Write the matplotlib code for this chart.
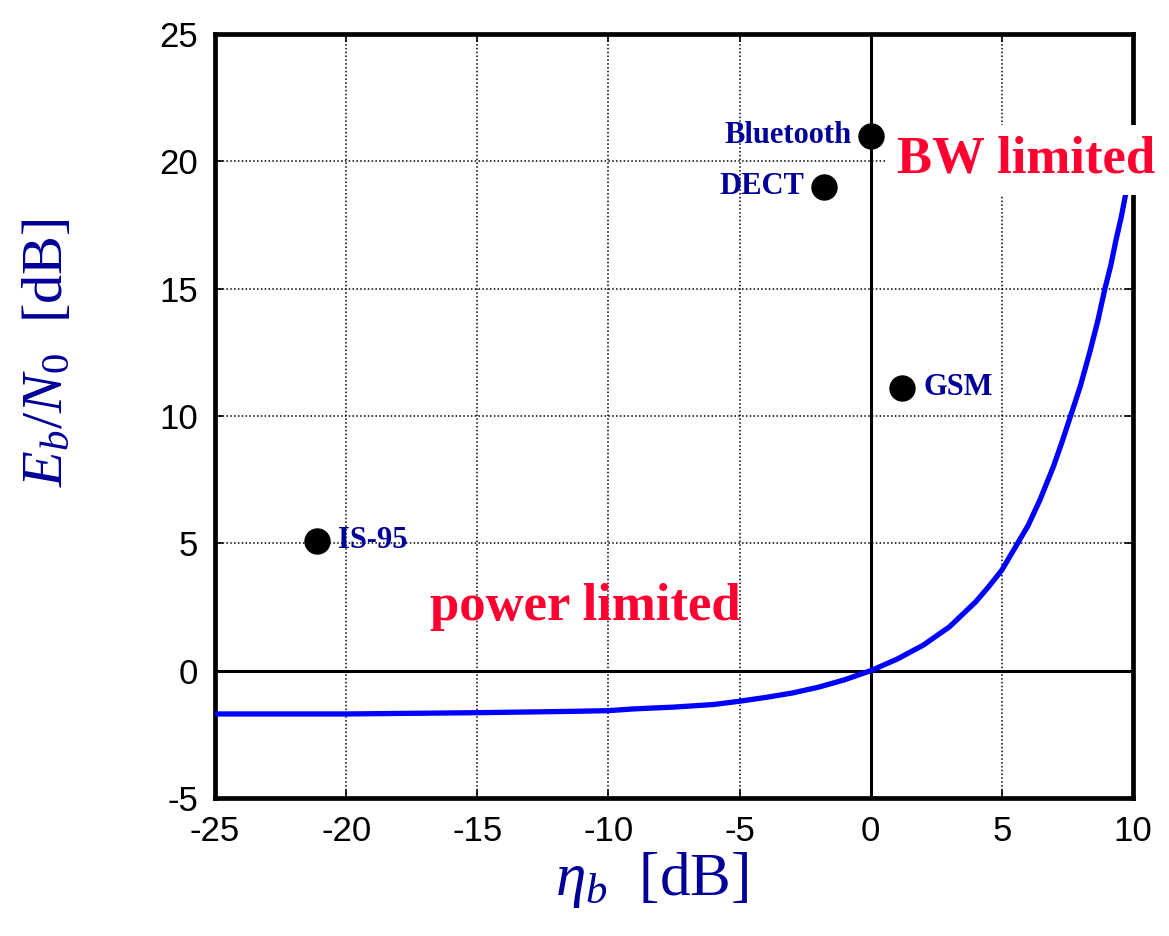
import numpy as np
import matplotlib
matplotlib.use("Agg")
import matplotlib.pyplot as plt

plt.rcParams["font.family"] = ["Liberation Sans", "DejaVu Sans"]
plt.rcParams["axes.unicode_minus"] = False
plt.rcParams["mathtext.fontset"] = "custom"
plt.rcParams["mathtext.rm"] = "Liberation Serif"
plt.rcParams["mathtext.it"] = "Liberation Serif:italic"
plt.rcParams["mathtext.bf"] = "Liberation Serif:bold"

# Shannon bound (eta_b in dB, Eb/N0 in dB)
eta_db = [-25, -20, -15, -11.5, -10, -9, -7.5, -6, -5, -4, -3, -2, -1, 0,
          1, 2, 3, 4, 4.5, 5.0, 5.6, 6.0, 6.45, 6.96, 7.3, 7.62, 8.0, 8.35,
          8.65, 8.93, 9.15, 9.35, 9.55, 9.7]
ebn0_db = [-1.7, -1.7, -1.65, -1.6, -1.57, -1.5, -1.43, -1.33, -1.2, -1.05,
           -0.88, -0.65, -0.36, 0, 0.45, 1.0, 1.72, 2.7, 3.3, 3.95, 5.0, 5.7,
           6.7, 8.0, 9.0, 10.0, 11.2, 12.5, 13.7, 15.0, 15.9, 16.9, 17.8,
           18.6]

# systems
systems = ["Bluetooth", "DECT", "GSM", "IS-95"]
sys_eta = [0.0, -1.8, 1.2, -21.1]
sys_ebn0 = [21.0, 19.0, 11.1, 5.1]
sys_side = ["left", "left", "right", "right"]

xticks = [-25, -20, -15, -10, -5, 0, 5, 10]
yticks = [-5, 0, 5, 10, 15, 20, 25]

blue_txt = "#000099"
red_txt = "#ff0030"

fig = plt.figure(figsize=(11.69, 9.36), dpi=100)
ax = fig.add_axes([215 / 1169, 1 - 798 / 936, 918 / 1169, 764 / 936])

ax.set_xlim(-25, 10)
ax.set_ylim(-5, 25)
ax.set_xticks(xticks)
ax.set_yticks(yticks)
ax.grid(True, linestyle=(0, (1, 1.5)), color="black", linewidth=1.1)
ax.tick_params(direction="in", top=True, right=True, length=6, width=1.2,
               labelsize=25, pad=12)
for s in ax.spines.values():
    s.set_linewidth(3.4)

ax.axhline(0, color="black", linewidth=2.2, zorder=2)
ax.axvline(0, color="black", linewidth=2.2, zorder=2)

ax.plot(eta_db, ebn0_db, color="#0000ff", linewidth=3.8, zorder=3)

ax.plot(sys_eta, sys_ebn0, "o", color="black", markersize=18, zorder=4)
for name, x, y, side in zip(systems, sys_eta, sys_ebn0, sys_side):
    off = -14 if side == "left" else 15
    ax.annotate(name, (x, y), xytext=(off, 0), textcoords="offset points",
                ha="right" if side == "left" else "left", va="center",
                family="Liberation Serif", fontweight="bold", fontsize=22,
                color=blue_txt, zorder=5)

ax.text(-16.8, 2.0, "power limited", family="Liberation Serif",
        fontweight="bold", fontsize=38, color=red_txt, ha="left",
        va="baseline")
ax.text(1.0, 19.55, "BW limited", family="Liberation Serif",
        fontweight="bold", fontsize=38, color=red_txt, ha="left",
        va="baseline", zorder=6, clip_on=False,
        bbox=dict(facecolor="white", edgecolor="none", pad=8))

ax.set_xlabel(r"$\eta_b$  [dB]", family="Liberation Serif", fontsize=44,
              color=blue_txt, va="center")
ax.xaxis.set_label_coords((652 - 215) / 918, (798 - 880) / 764)
ax.set_ylabel(r"$E_b/N_{\mathit{0}}$  [dB]", family="Liberation Serif",
              fontsize=42, color=blue_txt, va="center")
ax.yaxis.set_label_coords((48 - 215) / 918, (798 - 353) / 764)

fig.savefig("out.png", dpi=100)
